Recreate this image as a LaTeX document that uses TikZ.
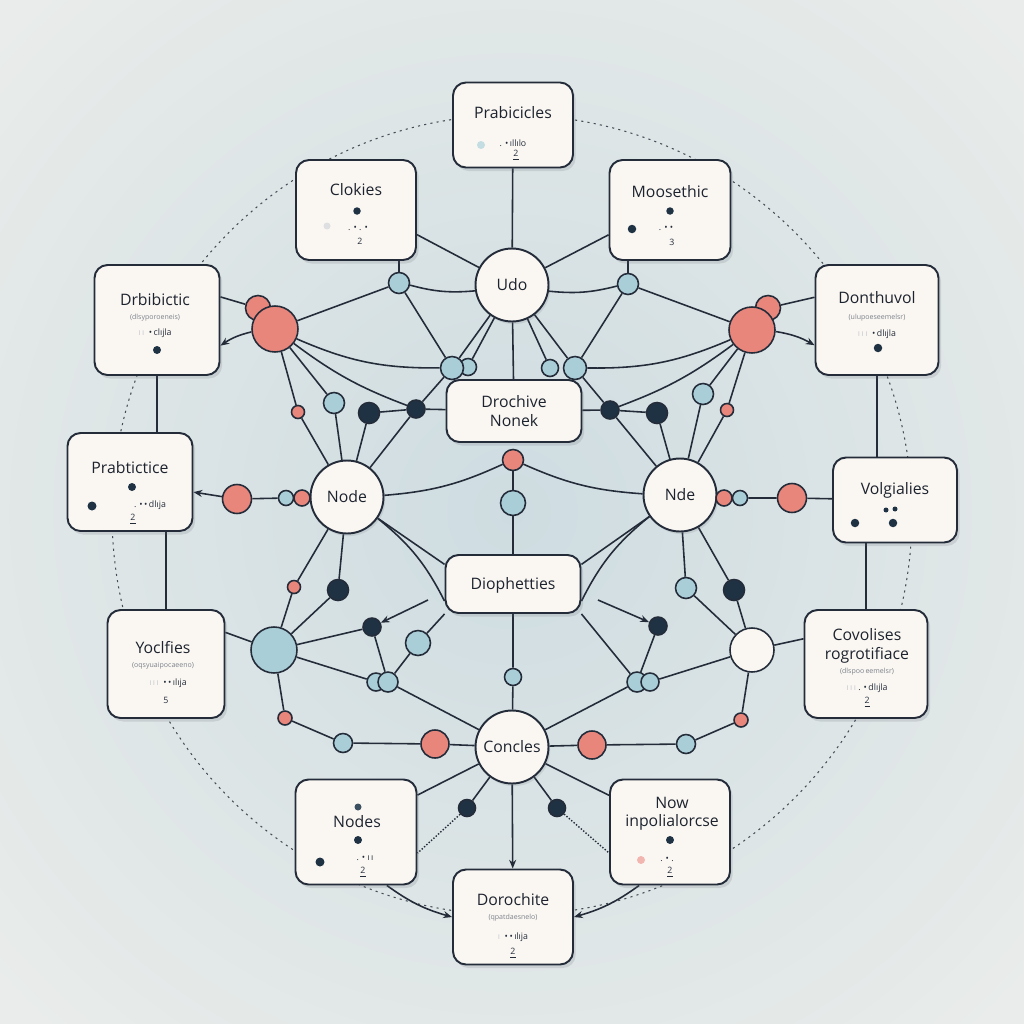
\documentclass[tikz,border=0pt]{standalone}
\usepackage{fontspec}
\setmainfont{Open Sans}
\usetikzlibrary{arrows.meta,shadows}
\definecolor{ink}{RGB}{36,44,58}
\definecolor{navy}{RGB}{31,50,68}
\definecolor{coral}{RGB}{233,134,124}
\definecolor{skyb}{RGB}{170,206,215}
\definecolor{paper}{RGB}{250,247,243}
\definecolor{bgout}{RGB}{233,236,234}
\definecolor{bgin}{RGB}{206,220,225}
\pgfdeclarelayer{back}
\pgfdeclarelayer{wires}
\pgfsetlayers{back,wires,main}

\begin{document}
\begin{tikzpicture}[x=0.02cm,y=-0.02cm,
  box/.style={draw=ink,line width=1.1pt,rounded corners=2.6mm,fill=paper,
    drop shadow={shadow xshift=1.5pt,shadow yshift=-2pt,opacity=.18,fill=ink!70}},
  ttl/.style={font=\fontsize{9}{10.5}\selectfont,text=ink!80!black,align=center},
  sub/.style={font=\fontsize{4}{5}\selectfont,text=ink!60},
  bits/.style={font=\fontsize{5}{6}\selectfont,text=ink},
  hub/.style={circle,draw=ink,line width=1.1pt,fill=paper,minimum size=14.6mm,
    inner sep=0pt,font=\fontsize{9}{10}\selectfont,text=ink!80!black,
    drop shadow={shadow xshift=1pt,shadow yshift=-1.5pt,opacity=.15,fill=ink!70}},
  bead/.style={circle,draw=ink,line width=0.9pt,inner sep=0pt,minimum size=#1},
  bead/.default=4mm,
  cor/.style={bead=#1,fill=coral},cor/.default=4mm,
  sky/.style={bead=#1,fill=skyb},sky/.default=4mm,
  nav/.style={bead=#1,fill=navy},nav/.default=4mm,
  wire/.style={draw=ink,line width=0.9pt},
  arw/.style={wire,-{Stealth[length=5pt,width=4pt]}},
  dotw/.style={draw=ink,line width=0.8pt,densely dotted}
]
\useasboundingbox (0,0) rectangle (1024,1024);
\begin{pgfonlayer}{back}
  \fill[bgout] (0,0) rectangle (1024,1024);
  \shade[inner color=bgin,outer color=bgout] (512,512) circle [radius=14cm];
  \draw[ink!85,line width=0.6pt,dash pattern=on 1.2pt off 2.4pt] (512,515) circle [radius=8cm];
\end{pgfonlayer}

% boxes
\node[box,minimum width=24mm,minimum height=17mm] (prab) at (513,125) {};
\node[box,minimum width=24mm,minimum height=20mm] (clok) at (356,210) {};
\node[box,minimum width=24.2mm,minimum height=20mm] (moos) at (670,210) {};
\node[box,minimum width=25mm,minimum height=22mm] (drbi) at (157,320) {};
\node[box,minimum width=24.6mm,minimum height=22mm] (dont) at (877,320) {};
\node[box,minimum width=25mm,minimum height=19.6mm] (prbt) at (130,482) {};
\node[box,minimum width=24.8mm,minimum height=17mm] (volg) at (895,500) {};
\node[box,minimum width=23.4mm,minimum height=21.6mm] (yocl) at (166,664) {};
\node[box,minimum width=24.6mm,minimum height=21.6mm] (covo) at (866,664) {};
\node[box,minimum width=24.2mm,minimum height=21mm] (nods) at (356,832) {};
\node[box,minimum width=24mm,minimum height=21mm] (nowi) at (670,832) {};
\node[box,minimum width=24mm,minimum height=19mm] (doro) at (513,917) {};
\node[box,minimum width=27mm,minimum height=12.4mm] (droc) at (514,411) {};
\node[box,minimum width=27mm,minimum height=11.6mm] (diop) at (513,584) {};

% hubs
\node[hub] (udo) at (512,285) {Udo};
\node[hub] (nodeL) at (347,497) {Node};
\node[hub] (nodeR) at (680,495) {Nde};
\node[hub] (conc) at (512,747) {Concles};
\node[bead=8.8mm,fill=paper] (whR) at (752,650) {};
\node[sky=9.2mm] (bluL) at (274,650) {};

% beads
\node[cor=5mm] (corTLs) at (258,308) {};
\node[cor=9.2mm] (corTL) at (275,329) {};
\node[cor=5mm] (corTRs) at (768,308) {};
\node[cor=9.2mm] (corTR) at (752,330) {};
\node[cor=5.8mm] (corML) at (237,499) {};
\node[cor=5.8mm] (corMR) at (792,498) {};
\node[cor=5.6mm] (corBL) at (435,744) {};
\node[cor=5.6mm] (corBR) at (592,745) {};
\node[cor=4.2mm] (corC) at (513,460) {};
\node[cor=2.6mm] (c1L) at (298,412) {};
\node[cor=2.6mm] (c1R) at (727,410) {};
\node[cor=2.6mm] (c2L) at (294,587) {};
\node[cor=2.8mm] (c3L) at (285,718) {};
\node[cor=2.8mm] (c3R) at (741,720) {};
\node[sky=3mm] (smL) at (286,498) {};
\node[cor=3.2mm] (cmL) at (302,498) {};
\node[cor=3.2mm] (cmR) at (724,498) {};
\node[sky=3mm] (smR) at (740,498) {};
\node[sky=4.2mm] (s283) at (399,283) {};
\node[sky=4.2mm] (s628) at (628,284) {};
\node[sky=3.4mm] (pL2) at (468,367) {};
\node[sky=4.6mm] (pL1) at (452,368) {};
\node[sky=3.4mm] (pR1) at (550,368) {};
\node[sky=4.6mm] (pR2) at (575,368) {};
\node[sky=4.2mm] (sL334) at (334,403) {};
\node[sky=4.2mm] (sR703) at (703,394) {};
\node[sky=5mm] (sC) at (513,503) {};
\node[sky=3.4mm] (sC2) at (513,677) {};
\node[sky=5mm] (sL418) at (418,643) {};
\node[sky=4.2mm] (sR686) at (686,588) {};
\node[sky=3.6mm] (qL1) at (376,682) {};
\node[sky=4mm] (qL2) at (388,682) {};
\node[sky=4mm] (qR1) at (637,682) {};
\node[sky=3.6mm] (qR2) at (650,682) {};
\node[sky=3.8mm] (sL343) at (343,743) {};
\node[sky=3.8mm] (sR686b) at (686,744) {};
\node[nav=4.2mm] (n369) at (369,413) {};
\node[nav=3.6mm] (n416) at (416,409) {};
\node[nav=3.6mm] (n610) at (610,410) {};
\node[nav=4.2mm] (n657) at (657,413) {};
\node[nav=4.2mm] (n338) at (338,590) {};
\node[nav=3.6mm] (n372) at (372,627) {};
\node[nav=3.6mm] (n658) at (658,626) {};
\node[nav=4.2mm] (n734) at (734,590) {};
\node[nav=3.4mm] (n467) at (467,808) {};
\node[nav=3.4mm] (n557) at (557,808) {};
\coordinate (aL) at (428,600);
\coordinate (aR) at (598,600);

% box texts
\node[ttl] (prabT) at (513,113) {Prabicicles};
\fill[skyb!70] (481,145) circle (0.8mm);
\node[bits] (prabB) at (513,143) {. \textbullet\,ıllılo};
\node[bits] (prabN) at (516,155) {\underline{2}};
\node[ttl] (clokT) at (356,190) {Clokies};
\fill[navy] (357,211) circle (0.75mm);
\fill[ink!15] (327,226) circle (0.7mm);
\node[bits] (clokB) at (358,228) {. \textbullet\ . \textbullet};
\node[bits] (clokN) at (360,241) {2};
\node[ttl] (moosT) at (670,192) {Moosethic};
\fill[navy] (670,211) circle (0.75mm);
\fill[navy] (632,229) circle (0.85mm);
\node[bits] (moosB) at (666,228) {. \textbullet\ \textbullet};
\node[bits] (moosN) at (672,242) {3};
\node[ttl] (drbiT) at (155,300) {Drbibictic};
\node[sub] (drbiS) at (155,318) {(dlsyporoeneis)};
\node[bits] (drbiB) at (155,333) {{\color{ink!25}ı\,ı}\ \ \textbullet\,clıjla};
\fill[navy] (157,350) circle (0.8mm);
\node[ttl] (dontT) at (877,298) {Donthuvol};
\node[sub] (dontS) at (877,318) {(ulupoeseemelsr)};
\node[bits] (dontB) at (877,334) {{\color{ink!25}ı\,ı\,ı}\ \ \textbullet\,dlıjla};
\fill[navy] (878,348) circle (0.85mm);
\node[ttl] (prbtT) at (130,468) {Prabtictice};
\fill[navy] (132,487) circle (0.8mm);
\fill[navy] (92,506) circle (0.9mm);
\node[bits] (prbtB) at (150,505) {. \textbullet\,\textbullet\,dlıja};
\node[bits] (prbtN) at (133,519) {\underline{2}};
\node[ttl] (volgT) at (895,490) {Volgialies};
\fill[navy] (886,510) circle (0.5mm);
\fill[navy] (895,509) circle (0.5mm);
\fill[navy] (855,523) circle (0.85mm);
\fill[navy] (893,523) circle (0.85mm);
\node[ttl] (yoclT) at (163,648) {Yoclfies};
\node[sub] (yoclS) at (163,666) {(oqsyuaipocaeeno)};
\node[bits] (yoclB) at (168,683) {{\color{ink!25}ı\,ı\,ı}\ \ \textbullet\,\textbullet\,ılıja};
\node[bits] (yoclN) at (166,700) {5};
\node[ttl] (covoT) at (867,646) {Covolises\\rogrotifiace};
\node[sub] (covoS) at (867,672) {(dlspoo\,eemelsr)};
\node[bits] (covoB) at (867,688) {{\color{ink!25}ı\,ı\,ı}\ . \textbullet\,dlıjla};
\node[bits] (covoN) at (867,702) {\underline{2}};
\fill[navy!80!skyb] (358,807) circle (0.7mm);
\node[ttl] (nodsT) at (357,822) {Nodes};
\fill[navy] (358,840) circle (0.8mm);
\fill[navy] (320,862) circle (0.9mm);
\node[bits] (nodsB) at (365,858) {. \textbullet\ ı\,ı};
\node[bits] (nodsN) at (363,872) {\underline{2}};
\node[ttl] (nowiT) at (672,814) {Now\\inpolialorcse};
\fill[navy] (670,840) circle (0.8mm);
\fill[coral!60] (641,860) circle (0.8mm);
\node[bits] (nowiB) at (667,859) {. \textbullet\ .};
\node[bits] (nowiN) at (670,872) {\underline{2}};
\node[ttl] (doroT) at (513,900) {Dorochite};
\node[sub] (doroS) at (513,918) {(qpatdaesnelo)};
\node[bits] (doroB) at (513,937) {{\color{ink!25}ı}\ \ \textbullet\,\textbullet\,ılıja};
\node[bits] (doroN) at (513,953) {\underline{2}};
\node[ttl] (drocT) at (514,411) {Drochive\\Nonek};
\node[ttl] (diopT) at (513,585) {Diophetties};

\begin{pgfonlayer}{wires}
  % top
  \draw[wire] (prab) -- (udo);
  \draw[wire] (clok.-22) -- (udo);
  \draw[wire] (moos.-158) -- (udo);
  \draw[wire] (clok.south -| s283) -- (s283);
  \draw[wire] (moos.south -| s628) -- (s628);
  \draw[wire] (udo) to[bend left=10] (s283);
  \draw[wire] (udo) to[bend right=10] (s628);
  \draw[wire] (udo) -- (pL1);
  \draw[wire] (udo) -- (pL2);
  \draw[wire] (udo) -- (pR1);
  \draw[wire] (udo) -- (pR2);
  \draw[wire] (udo) -- (droc);
  \draw[wire] (s283) -- (pL1);
  \draw[wire] (s628) -- (pR2);
  % left
  \draw[wire] (drbi.20) -- (corTLs);
  \draw[arw] (corTL) to[bend right=10] (drbi.-22);
  \draw[wire] (corTL) -- (s283);
  \draw[wire] (corTL) to[bend right=12] (pL1);
  \draw[wire] (corTL) to[bend right=8] (n416);
  \draw[wire] (corTL) -- (c1L) -- (nodeL);
  \draw[wire] (corTL) -- (sL334) -- (nodeL);
  \draw[wire] (pL1) -- (n416) -- (nodeL);
  \draw[wire] (n369) -- (nodeL);
  \draw[wire] (n369) -- (n416) -- (droc);
  \draw[wire] (nodeL) to[bend right=10] (corC);
  \draw[wire] (nodeL) -- (diop.164);
  \draw[wire] (nodeL) to[bend left=12] (diop.194);
  \draw[wire] (nodeL) -- (n338) -- (bluL);
  \draw[wire] (nodeL) -- (c2L) -- (bluL);
  \draw[wire] (bluL) -- (n372);
  \draw[arw] (aL) -- (n372);
  \draw[wire] (n372) -- (qL2);
  \draw[wire] (diop.south west) -- (sL418) -- (qL2);
  \draw[wire] (bluL) -- (qL1);
  \draw[wire] (qL2) -- (conc);
  \draw[wire] (bluL) -- (yocl.28);
  \draw[wire] (bluL) -- (c3L) -- (sL343) -- (corBL) -- (conc);
  \draw[arw] (corML) -- (prbt);
  \draw[wire] (corML) -- (smL) -- (cmL) -- (nodeL);
  \draw[wire] (drbi.south) -- (drbi.south |- prbt.north);
  \draw[wire] (prbt.south -| yocl.north) -- (yocl.north);
  % right
  \draw[wire] (dont.160) -- (corTRs);
  \draw[arw] (corTR) to[bend left=10] (dont.-158);
  \draw[wire] (corTR) -- (s628);
  \draw[wire] (corTR) to[bend left=12] (pR2);
  \draw[wire] (corTR) to[bend left=8] (n610);
  \draw[wire] (corTR) -- (c1R) -- (nodeR);
  \draw[wire] (corTR) -- (sR703) -- (nodeR);
  \draw[wire] (pR2) -- (n610) -- (nodeR);
  \draw[wire] (n657) -- (nodeR);
  \draw[wire] (n657) -- (n610) -- (droc);
  \draw[wire] (nodeR) to[bend left=10] (corC);
  \draw[wire] (nodeR) -- (diop.16);
  \draw[wire] (nodeR) to[bend right=12] (diop.-14);
  \draw[wire] (nodeR) -- (sR686) -- (whR);
  \draw[wire] (nodeR) -- (n734) -- (whR);
  \draw[arw] (aR) -- (n658);
  \draw[wire] (n658) -- (qR1);
  \draw[wire] (diop.south east) -- (qR1);
  \draw[wire] (whR) -- (qR2);
  \draw[wire] (qR1) -- (conc);
  \draw[wire] (whR) -- (covo.158);
  \draw[wire] (whR) -- (c3R) -- (sR686b) -- (corBR) -- (conc);
  \draw[wire] (nodeR) -- (cmR) -- (smR) -- (corMR) -- (volg);
  \draw[wire] (dont.south) -- (dont.south |- volg.north);
  \draw[wire] (volg.south -| covo.north) -- (covo.north);
  % middle and bottom
  \draw[wire] (corC) -- (sC) -- (diop);
  \draw[wire] (diop) -- (sC2) -- (conc);
  \draw[arw] (conc) -- (doro);
  \draw[wire] (conc) -- (n467);
  \draw[wire] (conc) -- (n557);
  \draw[dotw] (n467) -- (nods.-19);
  \draw[dotw] (n557) -- (nowi.-161);
  \draw[wire] (conc) -- (nods.31);
  \draw[wire] (conc) -- (nowi.149);
  \draw[arw] (nods.-60) to[bend right=10] (doro.west);
  \draw[arw] (nowi.-120) to[bend left=10] (doro.east);
\end{pgfonlayer}
\end{tikzpicture}
\end{document}
